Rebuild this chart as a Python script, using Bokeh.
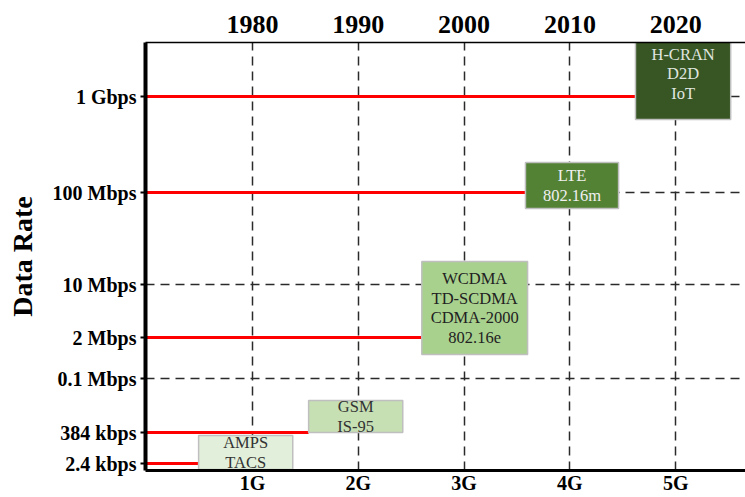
from bokeh.plotting import figure
from bokeh.models import FixedTicker, Range1d, LinearAxis, ColumnDataSource
from bokeh.embed import file_html
from bokeh.resources import INLINE
from bokeh.core.properties import value

# ---------------- data ----------------
years = [1980, 1990, 2000, 2010, 2020]
generations = ["1G", "2G", "3G", "4G", "5G"]

rate_labels = ["2.4 kbps", "384 kbps", "0.1 Mbps", "2 Mbps", "10 Mbps", "100 Mbps", "1 Gbps"]
rate_levels = [7, 38, 92, 133, 186, 278, 374]
grid_levels = [92, 186, 278, 374]

# red "data rate" lines: level and year where the next technology box begins
line_levels = [7, 38, 133, 278, 374]
line_end_year = [1974.9, 1985.3, 1996.0, 2005.8, 2016.2]

tech_names = ["AMPS\nTACS", "GSM\nIS-95", "WCDMA\nTD-SCDMA\nCDMA-2000\n802.16e",
              "LTE\n802.16m", "H-CRAN\nD2D\nIoT"]
tech_start = [1974.9, 1985.3, 1996.0, 2005.8, 2016.2]
tech_end = [1983.8, 1994.2, 2006.0, 2014.6, 2025.2]
tech_low = [1, 38, 116, 262, 351]
tech_high = [35, 70, 209, 308, 430]

box_fill = ["#e2efda", "#c6e0b4", "#a9d18e", "#548235", "#375623"]
box_text = ["#333333", "#333333", "#222222", "#f0f0f0", "#e0e6e0"]
text_shift = [0, 0, 0, 0, -6]

SERIF = "Liberation Serif"

x0, x1 = 1969.88, 2026.6
p = figure(width=745, height=497, output_backend="svg", toolbar_location=None,
           x_range=Range1d(x0, x1), y_range=Range1d(0, 428),
           min_border_left=145, min_border_right=0, min_border_top=42, min_border_bottom=27)
p.outline_line_color = None
p.background_fill_color = "white"
p.border_fill_color = "white"

# grids
p.xgrid.ticker = FixedTicker(ticks=years)
p.ygrid.ticker = FixedTicker(ticks=grid_levels)
for g in (p.xgrid, p.ygrid):
    g.grid_line_color = "#2a2a2a"
    g.grid_line_width = 1.5
    g.grid_line_dash = "9 6"

# red lines
p.segment(x0=[x0] * len(line_levels), y0=line_levels, x1=line_end_year, y1=line_levels,
          line_color="#ff0000", line_width=3)

# technology boxes
src = ColumnDataSource(dict(
    left=tech_start, right=tech_end, bottom=tech_low, top=tech_high,
    fill=box_fill, tcol=box_text, name=tech_names, shift=text_shift,
    cx=[(a + b) / 2 for a, b in zip(tech_start, tech_end)],
    cy=[(a + b) / 2 for a, b in zip(tech_low, tech_high)],
))
p.quad(left="left", right="right", bottom="bottom", top="top", source=src,
       fill_color="fill", line_color="#bfbfbf", line_width=1.5)
p.text(x="cx", y="cy", text="name", source=src, y_offset="shift",
       text_align="center", text_baseline="middle", text_color="tcol",
       text_font=value(SERIF), text_font_size="16.5px", text_line_height=1.05)

# bottom axis (generations)
xa = p.xaxis[0]
xa.ticker = FixedTicker(ticks=years)
xa.major_label_overrides = {y: g for y, g in zip(years, generations)}
xa.axis_line_width = 3
xa.major_tick_in = 0
xa.major_tick_out = 0
xa.minor_tick_line_color = None
xa.major_label_standoff = 1
xa.major_label_text_font = SERIF
xa.major_label_text_font_style = "bold"
xa.major_label_text_font_size = "20px"
xa.major_label_text_color = "black"

# top axis (years)
ta = LinearAxis(ticker=FixedTicker(ticks=years))
ta.major_label_overrides = {y: str(y) for y in years}
ta.axis_line_width = 1.5
ta.major_tick_line_color = None
ta.minor_tick_line_color = None
ta.major_label_standoff = 4
ta.major_label_text_font = SERIF
ta.major_label_text_font_style = "bold"
ta.major_label_text_font_size = "26px"
ta.major_label_text_color = "black"
p.add_layout(ta, "above")

# left axis (data rates)
ya = p.yaxis[0]
ya.ticker = FixedTicker(ticks=rate_levels)
ya.major_label_overrides = {lv: lb for lv, lb in zip(rate_levels, rate_labels)}
ya.axis_line_width = 4
ya.major_tick_out = 5
ya.major_tick_in = 0
ya.major_tick_line_width = 2
ya.minor_tick_line_color = None
ya.major_label_standoff = 4
ya.major_label_text_font = SERIF
ya.major_label_text_font_style = "bold"
ya.major_label_text_font_size = "20px"
ya.major_label_text_color = "black"
ya.axis_label = "Data Rate"
ya.axis_label_text_font = SERIF
ya.axis_label_text_font_style = "bold"
ya.axis_label_text_font_size = "28px"
ya.axis_label_standoff = 12
ya.axis_label_text_color = "black"

open("out.html", "w").write(file_html(p, INLINE))
